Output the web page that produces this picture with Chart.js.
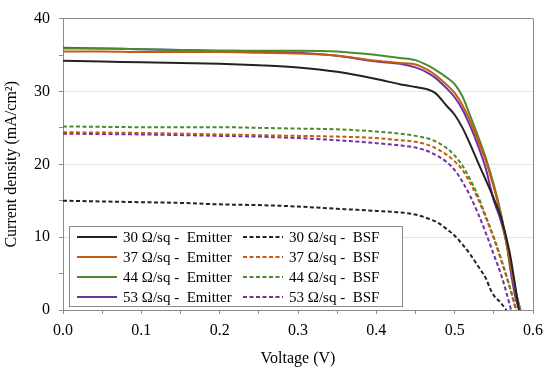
<!DOCTYPE html>
<html>
<head>
<meta charset="utf-8">
<script src="https://cdn.jsdelivr.net/npm/chart.js@4"></script>
<style>
    body { margin: 0; background: #fff; }
</style>
</head>
<body>
<canvas id="ivChart" width="550" height="370"></canvas>
<script>
// Voltage (V) and current density (mA/cm²)
const voltage30E = [0, 0.05, 0.1, 0.15, 0.2, 0.25, 0.3, 0.35, 0.4, 0.43, 0.45, 0.465, 0.475, 0.49, 0.5, 0.51, 0.52, 0.53, 0.54, 0.55, 0.56, 0.57, 0.577, 0.582];
const current30E = [34.2, 34.1, 34.0, 33.9, 33.8, 33.6, 33.3, 32.7, 31.7, 31.0, 30.6, 30.3, 29.8, 28.0, 26.8, 25.0, 22.7, 20.2, 17.8, 15.3, 12.4, 8.0, 3.5, 0];

const voltage37E = [0, 0.05, 0.1, 0.15, 0.2, 0.25, 0.3, 0.35, 0.4, 0.43, 0.45, 0.465, 0.475, 0.49, 0.5, 0.51, 0.52, 0.53, 0.54, 0.55, 0.56, 0.57, 0.578, 0.584];
const current37E = [35.5, 35.5, 35.4, 35.4, 35.4, 35.3, 35.2, 34.9, 34.2, 33.9, 33.7, 33.0, 32.3, 30.9, 29.8, 28.1, 25.9, 23.2, 20.4, 16.8, 12.5, 7.0, 2.5, 0];

const voltage44E = [0, 0.05, 0.1, 0.15, 0.2, 0.25, 0.3, 0.35, 0.4, 0.43, 0.45, 0.465, 0.475, 0.49, 0.5, 0.51, 0.52, 0.53, 0.54, 0.55, 0.56, 0.57, 0.578, 0.584];
const current44E = [35.9, 35.9, 35.8, 35.7, 35.6, 35.6, 35.6, 35.5, 35.0, 34.6, 34.3, 33.6, 33.0, 31.9, 31.0, 29.3, 26.6, 23.8, 20.8, 17.2, 12.8, 7.0, 2.5, 0];

const voltage53E = [0, 0.05, 0.1, 0.15, 0.2, 0.25, 0.3, 0.35, 0.4, 0.43, 0.45, 0.465, 0.475, 0.49, 0.5, 0.51, 0.52, 0.53, 0.54, 0.55, 0.558, 0.566, 0.572, 0.578, 0.583];
const current53E = [36.0, 35.9, 35.8, 35.7, 35.6, 35.5, 35.3, 34.9, 34.1, 33.8, 33.3, 32.6, 31.9, 30.4, 29.2, 27.5, 25.2, 22.5, 19.3, 15.0, 12.6, 9.2, 5.0, 1.5, 0];

const voltage30B = [0, 0.05, 0.1, 0.15, 0.2, 0.25, 0.3, 0.35, 0.4, 0.43, 0.45, 0.47, 0.48, 0.49, 0.5, 0.51, 0.52, 0.53, 0.54, 0.545, 0.55, 0.558, 0.566];
const current30B = [15.0, 14.9, 14.8, 14.7, 14.5, 14.4, 14.2, 13.9, 13.6, 13.4, 13.1, 12.4, 11.9, 11.1, 10.2, 9.0, 7.6, 6.0, 4.3, 3.0, 2.0, 1.1, 0];

const voltage37B = [0, 0.1, 0.2, 0.25, 0.3, 0.35, 0.4, 0.43, 0.45, 0.47, 0.49, 0.5, 0.51, 0.52, 0.53, 0.54, 0.55, 0.56, 0.57, 0.578];
const current37B = [24.4, 24.3, 24.1, 24.0, 23.9, 23.8, 23.6, 23.3, 23.1, 22.5, 21.3, 20.4, 19.2, 17.4, 15.2, 12.6, 9.8, 6.6, 3.2, 0];

const voltage44B = [0, 0.1, 0.2, 0.25, 0.3, 0.35, 0.4, 0.43, 0.45, 0.47, 0.49, 0.5, 0.51, 0.52, 0.53, 0.54, 0.55, 0.56, 0.57, 0.579];
const current44B = [25.2, 25.1, 25.1, 25.0, 24.9, 24.8, 24.5, 24.2, 23.9, 23.4, 22.2, 21.2, 19.8, 17.9, 15.6, 12.8, 10.0, 6.8, 3.3, 0];

const voltage53B = [0, 0.1, 0.2, 0.25, 0.3, 0.35, 0.4, 0.43, 0.45, 0.47, 0.49, 0.5, 0.51, 0.52, 0.53, 0.54, 0.55, 0.56, 0.566, 0.572];
const current53B = [24.2, 24.1, 23.9, 23.8, 23.6, 23.3, 22.9, 22.6, 22.3, 21.6, 20.3, 19.2, 17.6, 15.6, 13.2, 10.5, 7.6, 4.6, 2.4, 0];

const seriesLabels = ['30 Ω/sq -  Emitter', '30 Ω/sq -  BSF', '37 Ω/sq -  Emitter', '37 Ω/sq -  BSF',
    '44 Ω/sq -  Emitter', '44 Ω/sq -  BSF', '53 Ω/sq -  Emitter', '53 Ω/sq -  BSF'];
const seriesColors = ['#222222', '#222222', '#c55a11', '#c55a11', '#4b8b2b', '#4b8b2b', '#7030a0', '#7030a0'];

const FONT = '"Liberation Serif", "Times New Roman", serif';
const FRAME = '#8c8c8c';

const toPoints = (v, j) => v.map((x, i) => ({ x, y: j[i] }));

const seriesData = [
    toPoints(voltage30E, current30E), toPoints(voltage30B, current30B),
    toPoints(voltage37E, current37E), toPoints(voltage37B, current37B),
    toPoints(voltage44E, current44E), toPoints(voltage44B, current44B),
    toPoints(voltage53E, current53E), toPoints(voltage53B, current53B)
];

const datasets = seriesData.map((data, i) => ({
    label: seriesLabels[i],
    data,
    borderColor: seriesColors[i],
    borderWidth: 2,
    borderDash: i % 2 ? [4, 2.5] : [],
    pointRadius: 0,
    cubicInterpolationMode: 'monotone',
    fill: false
}));

// legend box drawn inside the plot, bottom-left
const insideLegend = {
    id: 'insideLegend',
    afterDatasetsDraw(chart) {
        const { ctx, chartArea } = chart;
        const left = chartArea.left + 6;
        const top = chartArea.bottom - 84;
        const width = 333;
        const height = 80;

        ctx.save();
        ctx.fillStyle = '#ffffff';
        ctx.fillRect(left, top, width, height);
        ctx.strokeStyle = FRAME;
        ctx.lineWidth = 1;
        ctx.strokeRect(left + 0.5, top + 0.5, width, height);

        ctx.font = '15px ' + FONT;
        ctx.textBaseline = 'middle';
        ctx.fillStyle = '#000000';

        chart.data.datasets.forEach((ds, i) => {
            const col = i % 2;
            const row = Math.floor(i / 2);
            const x0 = left + 8 + col * 166;
            const y0 = top + 11 + row * 20;

            ctx.strokeStyle = ds.borderColor;
            ctx.lineWidth = 2;
            ctx.setLineDash(ds.borderDash);
            ctx.beginPath();
            ctx.moveTo(x0, y0);
            ctx.lineTo(x0 + 40, y0);
            ctx.stroke();
            ctx.setLineDash([]);

            ctx.fillText(ds.label, x0 + 46, y0 + 1);
        });
        ctx.restore();
    }
};

const isMajor = (value, step) => Math.abs(value / step - Math.round(value / step)) < 1e-6;

new Chart(document.getElementById('ivChart').getContext('2d'), {
    type: 'line',
    data: { datasets },
    options: {
        responsive: false,
        animation: false,
        layout: { padding: { left: 0, top: 10, right: 17, bottom: 0 } },
        plugins: {
            legend: { display: false },
            tooltip: { enabled: false }
        },
        scales: {
            x: {
                type: 'linear',
                min: 0,
                max: 0.6,
                afterFit(scale) { scale.height = 60; },
                grid: {
                    color: c => (c.tick && (isMajor(c.tick.value, 0.6)) ? FRAME : 'transparent'),
                    tickColor: FRAME,
                    tickLength: 4
                },
                border: { color: FRAME },
                ticks: {
                    stepSize: 0.05,
                    padding: 7,
                    color: '#000',
                    font: { family: FONT, size: 16 },
                    maxRotation: 0,
                    autoSkip: false,
                    callback: v => (isMajor(v, 0.1) ? v.toFixed(1) : '')
                },
                title: {
                    display: true,
                    text: 'Voltage (V)',
                    color: '#000',
                    font: { family: FONT, size: 16 },
                    padding: { top: 0, bottom: 2 }
                }
            },
            y: {
                min: 0,
                max: 40,
                afterFit(scale) { scale.width = 63; },
                grid: {
                    color: c => {
                        const v = c.tick ? c.tick.value : 0;
                        if (v === 0 || v === 40) return FRAME;
                        return isMajor(v, 10) ? '#e3e3e3' : 'transparent';
                    },
                    tickColor: FRAME,
                    tickLength: 4
                },
                border: { color: FRAME },
                ticks: {
                    stepSize: 5,
                    padding: 9,
                    color: '#000',
                    font: { family: FONT, size: 16 },
                    autoSkip: false,
                    callback: v => (isMajor(v, 10) ? v : '')
                },
                title: {
                    display: true,
                    text: 'Current density (mA/cm²)',
                    color: '#000',
                    font: { family: FONT, size: 16 },
                    padding: { top: 2, bottom: 0 }
                }
            }
        }
    },
    plugins: [insideLegend]
});
</script>
</body>
</html>
